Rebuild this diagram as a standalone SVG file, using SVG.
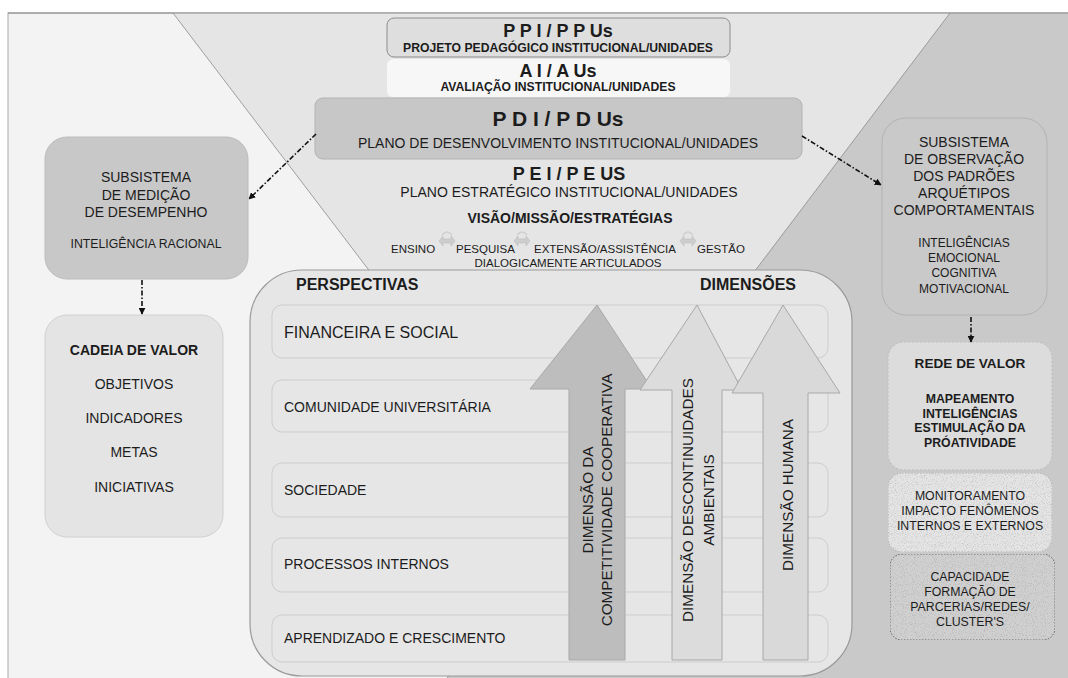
<svg xmlns="http://www.w3.org/2000/svg" width="1068" height="678" viewBox="0 0 1068 678">
<defs>
<style>
text{font-family:"Liberation Sans",Arial,sans-serif;fill:#1c1c1c}
.b{font-weight:bold}
.c{text-anchor:middle}
.conn{fill:none;stroke:#111;stroke-width:1.6;stroke-dasharray:5 2 1.5 2}
.row{fill:#e6e6e6;stroke:#cdcdcd;stroke-width:1}
.rl{font-size:14px}
.arr{stroke:#a8a8a8;stroke-width:1}
</style>
<marker id="ah" viewBox="0 0 10 10" refX="9" refY="5" markerWidth="7" markerHeight="7" orient="auto" markerUnits="userSpaceOnUse">
<path d="M0,0 L10,5 L0,10 z" fill="#111"/>
</marker>
<filter id="grain" x="0" y="0" width="1" height="1" color-interpolation-filters="sRGB">
<feTurbulence type="fractalNoise" baseFrequency="0.9" numOctaves="2" seed="3" result="n"/>
<feColorMatrix in="n" type="matrix" values="0 0 0 0 0.45  0 0 0 0 0.45  0 0 0 0 0.45  0.8 0 0 0 -0.4" result="m"/>
<feComposite in="m" in2="SourceGraphic" operator="in" result="c"/>
<feMerge><feMergeNode in="SourceGraphic"/><feMergeNode in="c"/></feMerge>
</filter>
<g id="link">
<path d="M-5,-3 Q0,-9 5,-3" fill="none" stroke="#cfcfcf" stroke-width="1.5"/>
<path d="M-8,3 L-4,-2 L-4,1 L4,1 L4,-2 L8,3 L4,8 L4,5 L-4,5 L-4,8 z" fill="#cdcdcd" stroke="#bdbdbd" stroke-width="0.6"/>
</g>
</defs>

<g id="background">
<rect x="8" y="13" width="1062" height="667" fill="#f3f3f3" stroke="#a8a8a8" stroke-width="1"/>
<polygon points="173,13 950,13 563,525" fill="#e5e5e5"/>
<polygon points="950,13 1068,13 1068,678 447,678" fill="#c9c9c9"/>
<line x1="173" y1="13" x2="563" y2="525" stroke="#8a8a8a" stroke-width="0.8"/>
<line x1="950" y1="13" x2="447" y2="678" stroke="#8a8a8a" stroke-width="0.8"/>
<line x1="8" y1="13" x2="1068" y2="13" stroke="#8a8a8a" stroke-width="1"/>
</g>

<g id="ppi">
<rect x="387" y="18" width="343" height="39" rx="7" fill="#dedede" stroke="#8c8c8c"/>
<text class="b c" x="558" y="37" font-size="18">P P I / P P Us</text>
<text class="b c" x="558" y="52" font-size="12.2">PROJETO PEDAGÓGICO INSTITUCIONAL/UNIDADES</text>
</g>

<g id="ai">
<rect x="387" y="59" width="343" height="38" rx="6" fill="#f7f7f7"/>
<text class="b c" x="558" y="77" font-size="18">A I / A Us</text>
<text class="b c" x="558" y="91" font-size="12.2">AVALIAÇÃO INSTITUCIONAL/UNIDADES</text>
</g>

<g id="pdi">
<rect x="315" y="98" width="487" height="61" rx="8" fill="#c7c7c7" stroke="#b3b3b3"/>
<text class="b c" x="558" y="126" font-size="21">P D I / P D Us</text>
<text class="c" x="558" y="148" font-size="14">PLANO DE DESENVOLVIMENTO INSTITUCIONAL/UNIDADES</text>
</g>

<g id="pei">
<text class="b c" x="569" y="180" font-size="18">P E I / P E US</text>
<text class="c" x="569" y="197" font-size="14">PLANO ESTRATÉGICO INSTITUCIONAL/UNIDADES</text>
<text class="b c" x="570" y="223" font-size="14">VISÃO/MISSÃO/ESTRATÉGIAS</text>
<use href="#link" x="447" y="238"/>
<use href="#link" x="522" y="238"/>
<use href="#link" x="688" y="238"/>
<text x="391" y="253" font-size="11.5">ENSINO</text>
<text x="456" y="253" font-size="11.5">PESQUISA</text>
<text x="534" y="253" font-size="11.5">EXTENSÃO/ASSISTÊNCIA</text>
<text x="697" y="253" font-size="11.5">GESTÃO</text>
<text class="c" x="568" y="267" font-size="11.5">DIALOGICAMENTE ARTICULADOS</text>
</g>

<g id="subsistema-medicao">
<rect x="45" y="137" width="203" height="142" rx="22" fill="#c8c8c8" stroke="#bcbcbc"/>
<text class="c" x="146" y="182" font-size="14">SUBSISTEMA</text>
<text class="c" x="146" y="200" font-size="14">DE MEDIÇÃO</text>
<text class="c" x="146" y="217" font-size="14">DE DESEMPENHO</text>
<text class="c" x="146" y="248" font-size="12.3">INTELIGÊNCIA RACIONAL</text>
</g>

<g id="cadeia-valor">
<rect x="45" y="315" width="178" height="222" rx="22" fill="#e4e4e4" stroke="#d0d0d0"/>
<text class="b c" x="134" y="355" font-size="14">CADEIA DE VALOR</text>
<text class="c" x="134" y="389" font-size="14">OBJETIVOS</text>
<text class="c" x="134" y="423" font-size="14">INDICADORES</text>
<text class="c" x="134" y="457" font-size="14">METAS</text>
<text class="c" x="134" y="492" font-size="14">INICIATIVAS</text>
</g>

<g id="subsistema-observacao">
<rect x="882" y="118" width="165" height="197" rx="24" fill="#c9c9c9" stroke="#b2b2b2"/>
<text class="c" x="964" y="147" font-size="14">SUBSISTEMA</text>
<text class="c" x="964" y="164" font-size="14">DE OBSERVAÇÃO</text>
<text class="c" x="964" y="181" font-size="14">DOS PADRÕES</text>
<text class="c" x="964" y="198" font-size="14">ARQUÉTIPOS</text>
<text class="c" x="964" y="215" font-size="14">COMPORTAMENTAIS</text>
<text class="c" x="964" y="247" font-size="12">INTELIGÊNCIAS</text>
<text class="c" x="964" y="262" font-size="12">EMOCIONAL</text>
<text class="c" x="964" y="277" font-size="12">COGNITIVA</text>
<text class="c" x="964" y="293" font-size="12">MOTIVACIONAL</text>
</g>

<g id="rede-valor">
<rect x="888" y="342" width="164" height="128" rx="16" fill="#dcdcdc" stroke="#bdbdbd" stroke-dasharray="2 2"/>
<text class="b c" x="970" y="368" font-size="13.6">REDE DE VALOR</text>
<text class="b c" x="970" y="403" font-size="12.3">MAPEAMENTO</text>
<text class="b c" x="970" y="418" font-size="12.3">INTELIGÊNCIAS</text>
<text class="b c" x="970" y="432" font-size="12.3">ESTIMULAÇÃO DA</text>
<text class="b c" x="970" y="447" font-size="12.3">PRÓATIVIDADE</text>
</g>

<g id="monitoramento">
<rect x="888" y="473" width="164" height="79" rx="14" fill="#e4e4e4" stroke="#b0b0b0" stroke-dasharray="1.5 1.5" filter="url(#grain)"/>
<text class="c" x="970" y="500" font-size="12.3">MONITORAMENTO</text>
<text class="c" x="970" y="515" font-size="12.3">IMPACTO FENÔMENOS</text>
<text class="c" x="970" y="530" font-size="12.3">INTERNOS E EXTERNOS</text>
</g>

<g id="capacidade">
<rect x="890" y="554" width="165" height="86" rx="12" fill="#d0d0d0" stroke="#555" stroke-width="0.9" stroke-dasharray="1.5 1.5" filter="url(#grain)"/>
<text class="c" x="970" y="581" font-size="12.3">CAPACIDADE</text>
<text class="c" x="970" y="596" font-size="12.3">FORMAÇÃO DE</text>
<text class="c" x="970" y="611" font-size="12.3">PARCERIAS/REDES/</text>
<text class="c" x="970" y="626" font-size="12.3">CLUSTER'S</text>
</g>

<g id="perspectivas-dimensoes">
<rect x="250" y="270" width="602" height="406" rx="52" fill="#e6e6e6" stroke="#9a9a9a" stroke-width="1.2"/>
<text class="b" x="296" y="290" font-size="16">PERSPECTIVAS</text>
<text class="b" x="700" y="290" font-size="16">DIMENSÕES</text>
<g id="rows">
<rect class="row" x="272" y="305" width="556" height="53" rx="10"/>
<rect class="row" x="272" y="380" width="556" height="52" rx="10"/>
<rect class="row" x="272" y="463" width="556" height="54" rx="10"/>
<rect class="row" x="272" y="538" width="556" height="54" rx="10"/>
<rect class="row" x="272" y="615" width="556" height="47" rx="10"/>
<text x="284" y="338" font-size="16">FINANCEIRA E SOCIAL</text>
<text class="rl" x="284" y="412">COMUNIDADE UNIVERSITÁRIA</text>
<text class="rl" x="284" y="495">SOCIEDADE</text>
<text class="rl" x="284" y="569">PROCESSOS INTERNOS</text>
<text class="rl" x="284" y="643">APRENDIZADO E CRESCIMENTO</text>
</g>
<g id="arrow-competitividade">
<polygon class="arr" points="597,305 652,389 625,389 625,660 569,660 569,389 530,389" fill="#bdbdbd"/>
<text class="c" transform="translate(592.5,500) rotate(-90)" font-size="15.3">DIMENSÃO DA</text>
<text class="c" transform="translate(611.5,500) rotate(-90)" font-size="15.3">COMPETITIVIDADE COOPERATIVA</text>
</g>
<g id="arrow-descontinuidades">
<polygon class="arr" points="697,305 742,390 722,390 722,660 672,660 672,390 640,390" fill="#dcdcdc"/>
<text class="c" transform="translate(692.5,500) rotate(-90)" font-size="15.3">DIMENSÃO DESCONTINUIDADES</text>
<text class="c" transform="translate(713.5,500) rotate(-90)" font-size="15.3">AMBIENTAIS</text>
</g>
<g id="arrow-humana">
<polygon class="arr" points="783,305 840,393 808,393 808,660 763,660 763,393 732,393" fill="#d9d9d9"/>
<text class="c" transform="translate(792.5,495) rotate(-90)" font-size="15.3">DIMENSÃO HUMANA</text>
</g>
</g>

<g id="connectors">
<line class="conn" x1="316" y1="134" x2="249" y2="199" marker-end="url(#ah)"/>
<line class="conn" x1="802" y1="136" x2="881" y2="185" marker-end="url(#ah)"/>
<line class="conn" x1="142" y1="280" x2="142" y2="314" marker-end="url(#ah)"/>
<line class="conn" x1="971" y1="317" x2="971" y2="342" marker-end="url(#ah)"/>
</g>
</svg>
